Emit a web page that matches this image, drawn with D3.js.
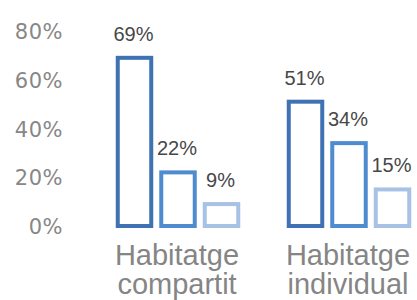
<!DOCTYPE html>
<html><head><meta charset="utf-8">
<script src="https://cdn.jsdelivr.net/npm/d3@7"></script>
<style>html,body{margin:0;padding:0;background:#fff;}svg{display:block;}</style>
</head><body>
<script>
const groups = ["Habitatge compartit", "Habitatge individual"];
const groupLines = [["Habitatge", "compartit"], ["Habitatge", "individual"]];
const series = ["s1", "s2", "s3"];
const valuesCompartit = [69, 22, 9];
const valuesIndividual = [51, 34, 15];
const yTicks = [0, 20, 40, 60, 80];
const colors = ["#3f72b3", "#4f8ccf", "#a8c2e6"];

const allValues = [valuesCompartit, valuesIndividual];
const W = 417, H = 300;
const svg = d3.select("body").append("svg").attr("width", W).attr("height", H);

const y = d3.scaleLinear().domain([0, 80]).range([226, 31]);
const x = d3.scalePoint().domain(groups).range([178, 349]);
const xi = d3.scaleBand().domain(series).range([-60.25, 60.25]).paddingInner(0.23).paddingOuter(0);

// y axis
const yAxis = d3.axisLeft(y).tickValues(yTicks).tickFormat(d => d + "%").tickSize(0).tickPadding(0);
const ga = svg.append("g").attr("transform", "translate(63,0)").call(yAxis);
ga.select(".domain").remove();
ga.selectAll("text").attr("font-family", "DejaVu Sans").attr("font-size", 21)
  .attr("fill", "#878787").attr("letter-spacing", "0.5px").attr("dy", "0.36em");

// bars
groups.forEach((g, gi) => {
  const gg = svg.append("g").attr("transform", `translate(${x(g)},0)`);
  series.forEach((s, si) => {
    const v = allValues[gi][si];
    gg.append("rect")
      .attr("x", xi(s)).attr("width", xi.bandwidth())
      .attr("y", y(v)).attr("height", y(0) - y(v))
      .attr("fill", "#fff").attr("stroke", colors[si]).attr("stroke-width", 4);
    gg.append("text")
      .attr("x", xi(s) + xi.bandwidth() / 2 - 1).attr("y", y(v) - 17)
      .attr("text-anchor", "middle")
      .attr("font-family", "Liberation Sans, Arial, sans-serif").attr("font-size", 20)
      .attr("fill", "#474747").text(v + "%");
  });
  groupLines[gi].forEach((line, li) => {
    gg.append("text").attr("x", -1).attr("y", 265 + li * 29)
      .attr("text-anchor", "middle")
      .attr("font-family", "Liberation Sans, Arial, sans-serif").attr("font-size", 29)
      .attr("fill", "#858585").text(line);
  });
});
</script>
</body></html>
